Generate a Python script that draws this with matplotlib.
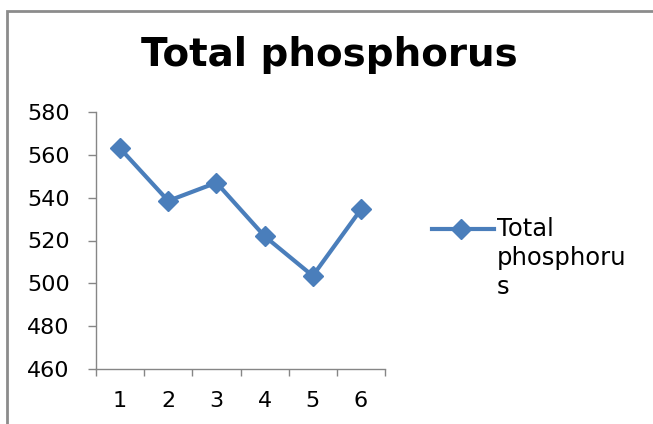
import matplotlib.pyplot as plt
from matplotlib.lines import Line2D
from matplotlib.patches import Rectangle

# data
samples = [1, 2, 3, 4, 5, 6]
total_p = [563, 538.5, 547, 522, 503.5, 534.5]
y_ticks = [460, 480, 500, 520, 540, 560, 580]

plt.rcParams['font.family'] = ['DejaVu Sans']

W, H = 653, 424
fig = plt.figure(figsize=(W / 100, H / 100), dpi=100)
ax = fig.add_axes([96 / W, 1 - 369 / H, (385 - 96) / W, (369 - 112) / H])

blue = '#4a7ebb'
gray = '#868686'

ax.plot(samples, total_p, color=blue, linewidth=3, marker='D', markersize=10,
        markerfacecolor=blue, markeredgecolor=blue)

ax.set_xlim(0.5, 6.5)
ax.set_ylim(460, 580)
ax.set_yticks(y_ticks)
ax.set_xticks([k + 0.5 for k in range(0, 7)])
ax.set_xticklabels([])
ax.set_xticks(samples, minor=True)
ax.set_xticklabels([str(s) for s in samples], minor=True)
ax.tick_params(axis='x', which='major', direction='out', length=5, color=gray, width=1)
ax.tick_params(axis='x', which='minor', length=0, labelsize=16, pad=16)
ax.tick_params(axis='y', direction='out', length=6, color=gray, width=1, labelsize=16, pad=13)

for side in ['top', 'right']:
    ax.spines[side].set_visible(False)
for side in ['left', 'bottom']:
    ax.spines[side].set_color(gray)
    ax.spines[side].set_linewidth(1)

fig.text(329 / W, 1 - 55 / H, 'Total phosphorus', ha='center', va='center',
         fontsize=28, fontweight='bold')

# legend drawn by hand so the marker sits on the first text line
ly = 1 - 229 / H
fig.add_artist(Line2D([432 / W, 494 / W], [ly, ly], color=blue, linewidth=3))
fig.add_artist(Line2D([461 / W], [ly], color=blue, marker='D', markersize=10))
fig.text(497 / W, ly, 'Total', ha='left', va='center', fontsize=17.5)
fig.text(497 / W, 1 - 258 / H, 'phosphoru', ha='left', va='center', fontsize=17.5)
fig.text(497 / W, 1 - 287 / H, 's', ha='left', va='center', fontsize=17.5)

# chart frame (extends past the right and bottom edge)
fig.add_artist(Rectangle((7 / W, -0.1), 1.2, 1 - 11 / H + 0.1, transform=fig.transFigure,
                         fill=False, edgecolor='#8c8c8c', linewidth=2))

fig.savefig('out.png', dpi=100)
